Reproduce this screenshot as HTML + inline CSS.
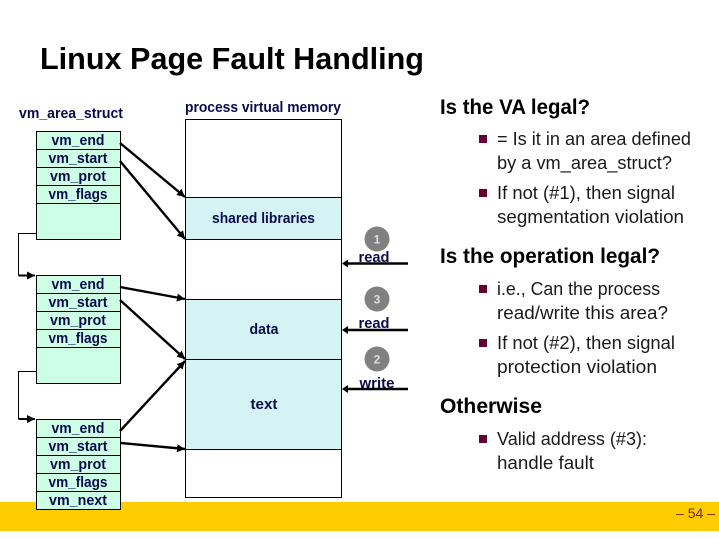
<!DOCTYPE html>
<html><head><meta charset="utf-8"><style>
html,body{margin:0;padding:0;background:#fff}
svg{display:block}
text{font-family:"Liberation Sans",sans-serif}
.l{font-size:14.5px;font-weight:bold;fill:#0b0b4b}
.b{font-size:18px;fill:#1a1a1a}
.h{font-size:21px;font-weight:bold;fill:#000}
</style></head><body>
<svg width="719" height="539" viewBox="0 0 719 539" xmlns="http://www.w3.org/2000/svg">
<defs><marker id="a" markerWidth="10" markerHeight="10" refX="8" refY="4" orient="auto" markerUnits="userSpaceOnUse"><path d="M0 0L8 4L0 8z" fill="#000"/></marker></defs>
<rect x="0" y="502" width="719" height="29" fill="#ffcc00"/>
<text x="40" y="69" font-size="31" font-weight="bold" textLength="384" lengthAdjust="spacingAndGlyphs">Linux Page Fault Handling</text>
<text class="l" x="19" y="118" textLength="104" lengthAdjust="spacingAndGlyphs">vm_area_struct</text>
<text class="l" x="185" y="112" textLength="156" lengthAdjust="spacingAndGlyphs">process virtual memory</text>

<g fill="#ccffe6" stroke="#000" stroke-width="1">
<rect x="36.5" y="131.5" width="84" height="108"/>
<path d="M36.5 149.5H120.5M36.5 167.5H120.5M36.5 185.5H120.5M36.5 203.5H120.5" fill="none"/>
<rect x="36.5" y="275.5" width="84" height="108"/>
<path d="M36.5 293.5H120.5M36.5 311.5H120.5M36.5 329.5H120.5M36.5 347.5H120.5" fill="none"/>
<rect x="36.5" y="419.5" width="84" height="90"/>
<path d="M36.5 437.5H120.5M36.5 455.5H120.5M36.5 473.5H120.5M36.5 491.5H120.5" fill="none"/>
</g>
<g text-anchor="middle">
<text class="l" x="78" y="145" textLength="53" lengthAdjust="spacingAndGlyphs">vm_end</text>
<text class="l" x="78" y="163" textLength="59" lengthAdjust="spacingAndGlyphs">vm_start</text>
<text class="l" x="78" y="181" textLength="56" lengthAdjust="spacingAndGlyphs">vm_prot</text>
<text class="l" x="78" y="199" textLength="59" lengthAdjust="spacingAndGlyphs">vm_flags</text>
<text class="l" x="78" y="289" textLength="53" lengthAdjust="spacingAndGlyphs">vm_end</text>
<text class="l" x="78" y="307" textLength="59" lengthAdjust="spacingAndGlyphs">vm_start</text>
<text class="l" x="78" y="325" textLength="56" lengthAdjust="spacingAndGlyphs">vm_prot</text>
<text class="l" x="78" y="343" textLength="59" lengthAdjust="spacingAndGlyphs">vm_flags</text>
<text class="l" x="78" y="433" textLength="53" lengthAdjust="spacingAndGlyphs">vm_end</text>
<text class="l" x="78" y="451" textLength="59" lengthAdjust="spacingAndGlyphs">vm_start</text>
<text class="l" x="78" y="469" textLength="56" lengthAdjust="spacingAndGlyphs">vm_prot</text>
<text class="l" x="78" y="487" textLength="59" lengthAdjust="spacingAndGlyphs">vm_flags</text>
<text class="l" x="78" y="505" textLength="58" lengthAdjust="spacingAndGlyphs">vm_next</text>
</g>

<rect x="185.5" y="119.5" width="156" height="378" fill="#fff" stroke="#000"/>
<g fill="#d5f3f5" stroke="#000">
<rect x="185.5" y="197.5" width="156" height="42"/>
<rect x="185.5" y="299.5" width="156" height="60"/>
<rect x="185.5" y="359.5" width="156" height="90"/>
</g>
<text class="l" x="263.5" y="223" text-anchor="middle" textLength="103" lengthAdjust="spacingAndGlyphs">shared libraries</text>
<text class="l" x="264" y="334" text-anchor="middle" textLength="29" lengthAdjust="spacingAndGlyphs">data</text>
<text class="l" x="264" y="409" text-anchor="middle" textLength="27" lengthAdjust="spacingAndGlyphs">text</text>

<g stroke="#000" stroke-width="2.4" fill="none">
<path d="M120 143L185 197" marker-end="url(#a)"/>
<path d="M120 161L185 239" marker-end="url(#a)"/>
<path d="M120 287L185 299" marker-end="url(#a)"/>
<path d="M120 300L185 359" marker-end="url(#a)"/>
<path d="M120 431L185 361" marker-end="url(#a)"/>
<path d="M121 443L185 449" marker-end="url(#a)"/>
<path d="M408 263.5H345M408 330H345M408 389H345"/>
</g>
<path d="M342 263.5L348 259.5V267.5zM342 330L348 326V334zM342 389L348 385V393z" fill="#000"/>
<path d="M36.5 233.5H18.5V275.5" fill="none" stroke="#000"/>
<path d="M18.5 275.5H35" fill="none" stroke="#000" stroke-width="2" marker-end="url(#a)"/>
<path d="M36.5 371.5H18.5V419" fill="none" stroke="#000"/>
<path d="M18.5 419H35" fill="none" stroke="#000" stroke-width="2" marker-end="url(#a)"/>

<g fill="#808080">
<circle cx="377" cy="239" r="12.5"/><circle cx="377" cy="299" r="12.5"/><circle cx="377" cy="359" r="12.5"/>
</g>
<g font-size="12" font-weight="bold" fill="#ddd" text-anchor="middle">
<text x="377" y="243.5">1</text><text x="377" y="303.5">3</text><text x="377" y="363.5">2</text>
</g>
<text class="l" x="374" y="262" text-anchor="middle" textLength="31" lengthAdjust="spacingAndGlyphs">read</text>
<text class="l" x="374" y="328" text-anchor="middle" textLength="31" lengthAdjust="spacingAndGlyphs">read</text>
<text class="l" x="377" y="388" text-anchor="middle" textLength="35" lengthAdjust="spacingAndGlyphs">write</text>

<text class="h" x="440" y="114" textLength="150" lengthAdjust="spacingAndGlyphs">Is the VA legal?</text>
<text class="h" x="440" y="263" textLength="220" lengthAdjust="spacingAndGlyphs">Is the operation legal?</text>
<text class="h" x="440" y="413" textLength="102" lengthAdjust="spacingAndGlyphs">Otherwise</text>

<g fill="#660033">
<rect x="479" y="135" width="8" height="8"/><rect x="479" y="189" width="8" height="8"/>
<rect x="479" y="285" width="8" height="8"/><rect x="479" y="339" width="8" height="8"/>
<rect x="479" y="435" width="8" height="8"/>
</g>
<text class="b" x="497" y="145" textLength="194" lengthAdjust="spacingAndGlyphs">= Is it in an area defined</text>
<text class="b" x="497" y="169" textLength="175" lengthAdjust="spacingAndGlyphs">by a vm_area_struct?</text>
<text class="b" x="497" y="199" textLength="178" lengthAdjust="spacingAndGlyphs">If not (#1), then signal</text>
<text class="b" x="497" y="223" textLength="187" lengthAdjust="spacingAndGlyphs">segmentation violation</text>
<text class="b" x="497" y="295" textLength="163" lengthAdjust="spacingAndGlyphs">i.e., Can the process</text>
<text class="b" x="497" y="319" textLength="171" lengthAdjust="spacingAndGlyphs">read/write this area?</text>
<text class="b" x="497" y="349" textLength="178" lengthAdjust="spacingAndGlyphs">If not (#2), then signal</text>
<text class="b" x="497" y="373" textLength="160" lengthAdjust="spacingAndGlyphs">protection violation</text>
<text class="b" x="497" y="445" textLength="150" lengthAdjust="spacingAndGlyphs">Valid address (#3):</text>
<text class="b" x="497" y="469" textLength="97" lengthAdjust="spacingAndGlyphs">handle fault</text>

<text x="676" y="518" font-size="14" fill="#7a2a10" textLength="39" lengthAdjust="spacingAndGlyphs">– 54 –</text>
</svg>
</body></html>
